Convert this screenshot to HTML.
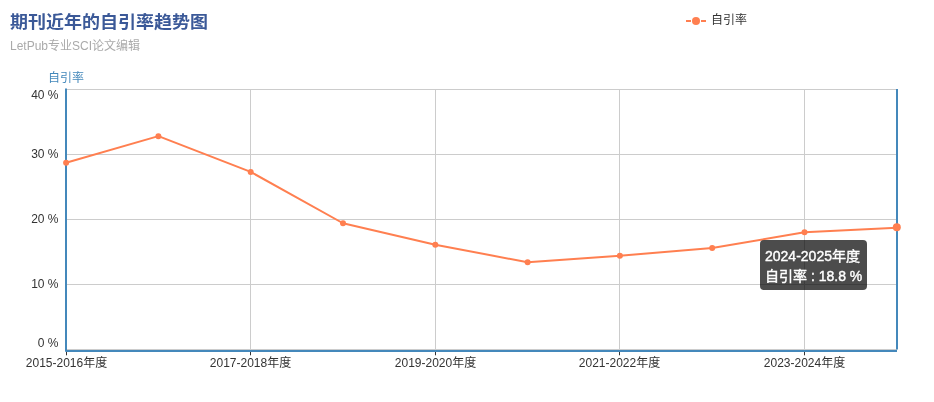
<!DOCTYPE html>
<html lang="zh"><head><meta charset="utf-8"><title>期刊近年的自引率趋势图</title>
<style>
html,body{margin:0;padding:0;background:#fff;}
body{width:934px;height:402px;position:relative;overflow:hidden;font-family:"Liberation Sans","Noto Sans CJK SC",sans-serif;font-size:12px;color:#333;}
#chart{position:absolute;left:0;top:0;width:934px;height:402px;}
svg{position:absolute;left:0;top:0;}
.title{position:absolute;left:10px;top:10px;font-size:18px;font-weight:bold;color:#3b5998;line-height:24px;white-space:nowrap;transform:scaleY(0.94);transform-origin:0 85%;}
.sub{position:absolute;left:10px;top:38px;font-size:12px;color:#aaa;line-height:16px;white-space:nowrap;}
.yname{position:absolute;left:26px;width:80px;text-align:center;top:70px;line-height:16px;color:#4488bb;white-space:nowrap;}
.yl{position:absolute;left:0;width:58.5px;text-align:right;line-height:16px;height:16px;white-space:nowrap;}
.xl{position:absolute;width:120px;text-align:center;top:355px;line-height:16px;white-space:nowrap;}
.legend{position:absolute;left:711px;top:12px;line-height:16px;white-space:nowrap;}
.tip{position:absolute;left:760px;top:240px;padding:6px 5px 4px 5px;border-radius:4px;background:rgba(0,0,0,0.7);color:#fff;font-size:14px;line-height:20px;white-space:nowrap;-webkit-text-stroke:0.4px #fff;}
</style></head><body>
<div id="chart">
<svg width="934" height="402" viewBox="0 0 934 402">
<g>
<line x1="66" y1="89.5" x2="897" y2="89.5" stroke="#ccc" stroke-width="1"/>
<line x1="66" y1="154.5" x2="897" y2="154.5" stroke="#ccc" stroke-width="1"/>
<line x1="66" y1="219.5" x2="897" y2="219.5" stroke="#ccc" stroke-width="1"/>
<line x1="66" y1="284.5" x2="897" y2="284.5" stroke="#ccc" stroke-width="1"/>
<line x1="66" y1="349.5" x2="897" y2="349.5" stroke="#ccc" stroke-width="1"/>
<line x1="250.5" y1="89" x2="250.5" y2="350" stroke="#ccc" stroke-width="1"/>
<line x1="435.5" y1="89" x2="435.5" y2="350" stroke="#ccc" stroke-width="1"/>
<line x1="619.5" y1="89" x2="619.5" y2="350" stroke="#ccc" stroke-width="1"/>
<line x1="804.5" y1="89" x2="804.5" y2="350" stroke="#ccc" stroke-width="1"/>
</g>
<g>
<line x1="66.5" y1="352" x2="66.5" y2="355.3" stroke="#333" stroke-width="1"/>
<line x1="250.5" y1="352" x2="250.5" y2="355.3" stroke="#333" stroke-width="1"/>
<line x1="435.5" y1="352" x2="435.5" y2="355.3" stroke="#333" stroke-width="1"/>
<line x1="619.5" y1="352" x2="619.5" y2="355.3" stroke="#333" stroke-width="1"/>
<line x1="804.5" y1="352" x2="804.5" y2="355.3" stroke="#333" stroke-width="1"/>
</g>
<line x1="66" y1="88.5" x2="66" y2="351.5" stroke="#4488bb" stroke-width="2"/>
<line x1="897" y1="89" x2="897" y2="349.6" stroke="#4488bb" stroke-width="2"/>
<line x1="65.5" y1="351" x2="897" y2="351" stroke="#4488bb" stroke-width="2"/>
<polyline points="66.10,162.80 158.40,136.15 250.70,171.90 343.00,223.25 435.30,244.70 527.60,262.25 619.90,255.75 712.20,247.95 804.50,232.35 896.80,227.80" fill="none" stroke="#ff7f50" stroke-width="2" stroke-linejoin="round"/>
<circle cx="66.10" cy="162.80" r="3" fill="#ff7f50"/>
<circle cx="158.40" cy="136.15" r="3" fill="#ff7f50"/>
<circle cx="250.70" cy="171.90" r="3" fill="#ff7f50"/>
<circle cx="343.00" cy="223.25" r="3" fill="#ff7f50"/>
<circle cx="435.30" cy="244.70" r="3" fill="#ff7f50"/>
<circle cx="527.60" cy="262.25" r="3" fill="#ff7f50"/>
<circle cx="619.90" cy="255.75" r="3" fill="#ff7f50"/>
<circle cx="712.20" cy="247.95" r="3" fill="#ff7f50"/>
<circle cx="804.50" cy="232.35" r="3" fill="#ff7f50"/>
<circle cx="896.80" cy="227.30" r="4" fill="#ff7f50"/>

<g>
<line x1="686" y1="21" x2="691" y2="21" stroke="#ff7f50" stroke-width="2"/>
<line x1="701" y1="21" x2="706" y2="21" stroke="#ff7f50" stroke-width="2"/>
<circle cx="696" cy="21" r="4" fill="#ff7f50"/>
</g>
</svg>
<div class="title">期刊近年的自引率趋势图</div>
<div class="sub">LetPub专业SCI论文编辑</div>
<div class="yname">自引率</div>
<div class="yl" style="top:87px">40 %</div>
<div class="yl" style="top:146px">30 %</div>
<div class="yl" style="top:211px">20 %</div>
<div class="yl" style="top:276px">10 %</div>
<div class="yl" style="top:335px">0 %</div>

<div class="xl" style="left:6.5px">2015-2016年度</div>
<div class="xl" style="left:190.5px">2017-2018年度</div>
<div class="xl" style="left:375.5px">2019-2020年度</div>
<div class="xl" style="left:559.5px">2021-2022年度</div>
<div class="xl" style="left:744.5px">2023-2024年度</div>

<div class="legend">自引率</div>
<div class="tip">2024-2025年度<br>自引率 : 18.8 %</div>
</div>
</body></html>
